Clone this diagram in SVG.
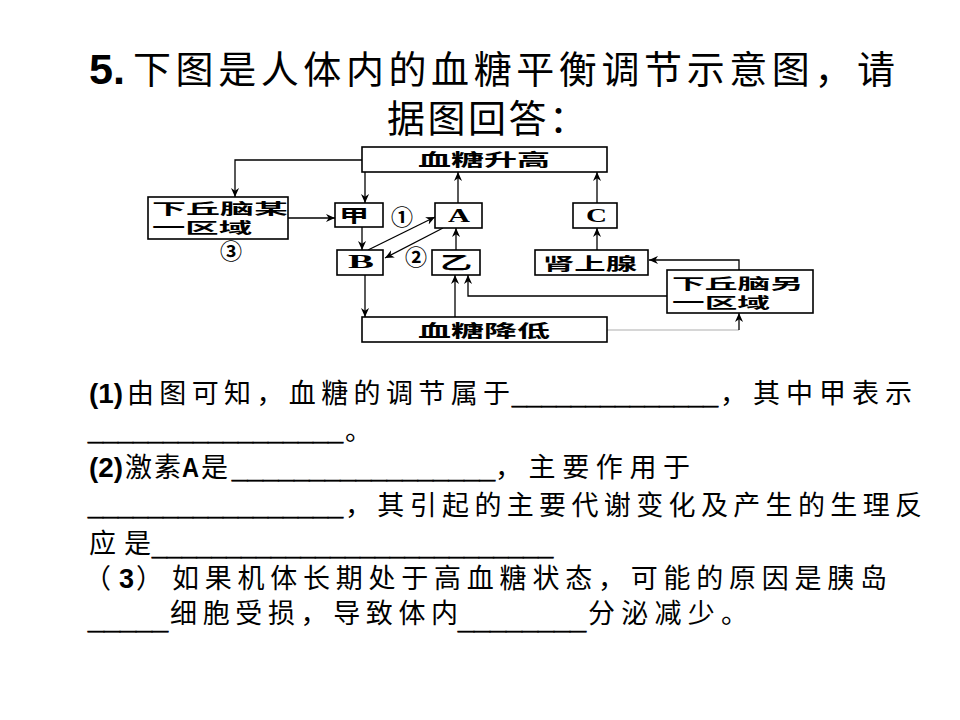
<svg xmlns="http://www.w3.org/2000/svg" width="960" height="720" viewBox="0 0 960 720">
<style>
.cn{font-family:"Noto Sans CJK SC","Noto Sans",sans-serif;fill:#000}
.t1{font-size:38px}
.b{font-size:27px}
.num{font-family:"Liberation Sans","Noto Sans",sans-serif;font-weight:bold;font-size:27px}
.us{font-family:"Liberation Sans",sans-serif;font-weight:bold;font-size:27px;stroke:#000;stroke-width:0.8}
.box{fill:#fff;stroke:#000;stroke-width:1.6}
.bt{font-family:"Noto Sans CJK SC",sans-serif;font-weight:bold;font-size:17px}
.bt2{font-family:"Noto Sans CJK SC",sans-serif;font-weight:bold;font-size:15px}
.bl{font-family:"Liberation Serif",serif;font-weight:bold;font-size:19px}
.circ{font-family:"Noto Sans CJK SC",sans-serif;font-weight:bold;font-size:22px}
.ln{fill:none;stroke:#000;stroke-width:1.3}
</style>
<defs>
<marker id="ah" viewBox="0 0 10 10" refX="10" refY="5" markerWidth="9" markerHeight="9" markerUnits="userSpaceOnUse" orient="auto">
<path d="M0,0.5 L10,5 L0,9.5 L3,5 z" fill="#000"/>
</marker>
</defs>
<rect width="960" height="720" fill="#fff"/>

<!-- Title -->
<text x="89" y="84" class="num" style="font-size:42px" textLength="36" lengthAdjust="spacingAndGlyphs">5.</text>
<text x="133" y="83" class="cn t1" textLength="762">下图是人体内的血糖平衡调节示意图，请</text>
<text x="387" y="132" class="cn t1" textLength="200">据图回答：</text>

<!-- Connectors -->
<g id="connectors">
<polyline class="ln" points="362,160 235,160 235,197" marker-end="url(#ah)"/>
<line class="ln" x1="365" y1="172" x2="365" y2="203" marker-end="url(#ah)"/>
<line class="ln" x1="288" y1="218" x2="335" y2="218" marker-end="url(#ah)"/>
<line class="ln" x1="362" y1="227" x2="362" y2="250" marker-end="url(#ah)"/>
<line class="ln" x1="368" y1="250" x2="435" y2="217" marker-end="url(#ah)"/>
<line class="ln" x1="443" y1="228" x2="385" y2="258" marker-end="url(#ah)"/>
<line class="ln" x1="458" y1="203" x2="458" y2="172" marker-end="url(#ah)"/>
<line class="ln" x1="456" y1="250" x2="456" y2="228" marker-end="url(#ah)"/>
<line class="ln" x1="597" y1="203" x2="597" y2="172" marker-end="url(#ah)"/>
<line class="ln" x1="597" y1="250" x2="597" y2="228" marker-end="url(#ah)"/>
<line class="ln" x1="365" y1="275" x2="365" y2="317" marker-end="url(#ah)"/>
<line class="ln" x1="455" y1="317" x2="455" y2="275" marker-end="url(#ah)"/>
<polyline class="ln" points="667,296 468,296 468,275" marker-end="url(#ah)"/>
<polyline class="ln" points="739,270 739,260 649,260" marker-end="url(#ah)"/>
<line x1="607" y1="330" x2="739" y2="330" stroke="#c8c8c8" stroke-width="1.5"/>
<line class="ln" x1="739" y1="330" x2="739" y2="313" marker-end="url(#ah)"/>
<text x="402" y="225" class="circ" text-anchor="middle">①</text>
<text x="416" y="265" class="circ" text-anchor="middle">②</text>
</g>

<!-- Nodes -->
<g id="n-up">
<rect class="box" x="362" y="147" width="245" height="25"/>
<text x="418" y="166" class="bt" textLength="132" lengthAdjust="spacingAndGlyphs">血糖升高</text>
</g>
<g id="n-hyp1">
<rect class="box" x="148" y="197" width="140" height="42"/>
<text x="152" y="214" class="bt2" textLength="136" lengthAdjust="spacingAndGlyphs">下丘脑某</text>
<text x="152" y="233" class="bt2" textLength="100" lengthAdjust="spacingAndGlyphs">一区域</text>
<text x="231" y="259" class="circ" text-anchor="middle">③</text>
</g>
<g id="n-jia">
<rect class="box" x="335" y="203" width="48" height="24"/>
<text x="339" y="222" class="bt" textLength="30" lengthAdjust="spacingAndGlyphs">甲</text>
</g>
<g id="n-A">
<rect class="box" x="435" y="203" width="47" height="25"/>
<text x="448" y="222" class="bl" textLength="22" lengthAdjust="spacingAndGlyphs">A</text>
</g>
<g id="n-C">
<rect class="box" x="573" y="203" width="44" height="25"/>
<text x="586" y="222" class="bl" textLength="21" lengthAdjust="spacingAndGlyphs">C</text>
</g>
<g id="n-B">
<rect class="box" x="337" y="250" width="46" height="25"/>
<text x="348" y="268" class="bl" textLength="26" lengthAdjust="spacingAndGlyphs">B</text>
</g>
<g id="n-yi">
<rect class="box" x="432" y="250" width="48" height="25"/>
<text x="440" y="269" class="bt" textLength="32" lengthAdjust="spacingAndGlyphs">乙</text>
</g>
<g id="n-adrenal">
<rect class="box" x="535" y="250" width="113" height="25"/>
<text x="543" y="270" class="bt" textLength="94" lengthAdjust="spacingAndGlyphs">肾上腺</text>
</g>
<g id="n-hyp2">
<rect class="box" x="667" y="270" width="146" height="43"/>
<text x="672" y="289" class="bt2" textLength="131" lengthAdjust="spacingAndGlyphs">下丘脑另</text>
<text x="672" y="308" class="bt2" textLength="98" lengthAdjust="spacingAndGlyphs">一区域</text>
</g>
<g id="n-down">
<rect class="box" x="362" y="317" width="245" height="25"/>
<text x="418" y="337" class="bt" textLength="132" lengthAdjust="spacingAndGlyphs">血糖降低</text>
</g>

<!-- Questions -->
<text x="89" y="403" class="num" textLength="34" lengthAdjust="spacingAndGlyphs">(1)</text>
<text x="127" y="403" class="cn b" textLength="383">由图可知，血糖的调节属于</text>
<text x="512" y="404" class="us" textLength="206" lengthAdjust="spacingAndGlyphs">______________</text>
<text x="720" y="403" class="cn b" textLength="192">，其中甲表示</text>

<text x="88" y="440" class="us" textLength="255" lengthAdjust="spacingAndGlyphs">_________________</text>
<text x="345" y="440" class="cn b">。</text>

<text x="89" y="477" class="num" textLength="34" lengthAdjust="spacingAndGlyphs">(2)</text>
<text x="125" y="477" class="cn b" textLength="56">激素</text>
<text x="182" y="477" class="num" textLength="17" lengthAdjust="spacingAndGlyphs">A</text>
<text x="201" y="477" class="cn b" textLength="30">是</text>
<text x="232" y="478" class="us" textLength="263" lengthAdjust="spacingAndGlyphs">_________________</text>
<text x="495" y="477" class="cn b" textLength="195">，主要作用于</text>

<text x="88" y="515" class="us" textLength="255" lengthAdjust="spacingAndGlyphs">_________________</text>
<text x="345" y="515" class="cn b" textLength="577">，其引起的主要代谢变化及产生的生理反</text>

<text x="89" y="553" class="cn b" textLength="62">应是</text>
<text x="152" y="555" class="us" textLength="401" lengthAdjust="spacingAndGlyphs">___________________________</text>

<text x="84" y="588" class="cn b">（</text>
<text x="119" y="588" class="num">3</text>
<text x="136" y="588" class="cn b">）</text>
<text x="172" y="588" class="cn b" textLength="715">如果机体长期处于高血糖状态，可能的原因是胰岛</text>

<text x="88" y="629" class="us" textLength="80" lengthAdjust="spacingAndGlyphs">_____</text>
<text x="170" y="623" class="cn b" textLength="288">细胞受损，导致体内</text>
<text x="458" y="629" class="us" textLength="128" lengthAdjust="spacingAndGlyphs">________</text>
<text x="588" y="623" class="cn b" textLength="160">分泌减少。</text>
</svg>
